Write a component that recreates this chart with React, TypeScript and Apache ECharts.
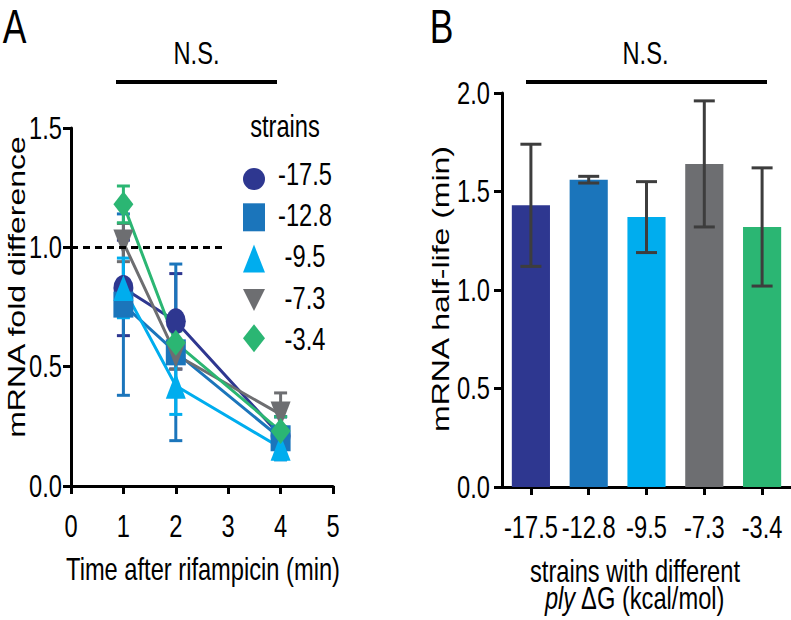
import React, { useEffect, useRef } from "react";
import * as echarts from "echarts";

// ---- data ----
const strainNames = ["-17.5", "-12.8", "-9.5", "-7.3", "-3.4"];
const strainColors = ["#2e3790", "#1b75bb", "#00adee", "#6d6e71", "#2bb673"];
const timePoints = [1, 2, 4];
const fold175 = [0.83, 0.69, 0.21];
const fold128 = [0.76, 0.56, 0.2];
const fold95 = [0.83, 0.42, 0.16];
const fold73 = [1.02, 0.55, 0.3];
const fold34 = [1.18, 0.6, 0.23];
const err175 = [0.2, 0.2, 0.08];
const err128 = [0.38, 0.37, 0.09];
const err95 = [0.125, 0.12, 0.05];
const err73 = [0.08, 0.06, 0.09];
const err34 = [0.077, 0.05, 0.06];
const halfLife = [1.43, 1.56, 1.37, 1.64, 1.32];
const halfLifeErr = [0.31, 0.017, 0.18, 0.32, 0.3];
const foldRefLine = 1.0;
const timeTicks = [0, 1, 2, 3, 4, 5];
const foldTicks = [0, 0.5, 1.0, 1.5];
const halfLifeTicks = [0, 0.5, 1.0, 1.5, 2.0];

const REG = "'Liberation Sans', Arial, Helvetica, sans-serif";
const SQ = 0.74; // horizontal squeeze of the reference's lettering
const FS = 32;

const symbols = [
  "path://M0,1A1,1,0,1,0,2,1A1,1,0,1,0,0,1Z",
  "rect",
  "triangle",
  "path://M0,0L2,0L1,2Z",
  "diamond",
];
const foldSeries = [fold175, fold128, fold95, fold73, fold34];
const errSeries = [err175, err128, err95, err73, err34];
const drawOrder = [0, 1, 3, 2, 4];

function errorBarSeries(xAxisIndex: number, yAxisIndex: number, data: number[][], color: string, cap: number, z: number) {
  return {
    type: "custom",
    xAxisIndex,
    yAxisIndex,
    z,
    silent: true,
    data,
    renderItem: (params: any, api: any) => {
      const x = api.value(0);
      const lo = api.value(1);
      const hi = api.value(2);
      const p1 = api.coord([x, hi]);
      const p2 = api.coord([x, lo]);
      const h = cap / 2;
      const style = { stroke: color, lineWidth: 3, fill: null };
      return {
        type: "group",
        children: [
          { type: "line", shape: { x1: p1[0], y1: p1[1], x2: p2[0], y2: p2[1] }, style },
          { type: "line", shape: { x1: p1[0] - h, y1: p1[1], x2: p1[0] + h, y2: p1[1] }, style },
          { type: "line", shape: { x1: p2[0] - h, y1: p2[1], x2: p2[0] + h, y2: p2[1] }, style },
        ],
      };
    },
  };
}

function txt(text: string, x: number, y: number, extra: any = {}, fontSize = FS) {
  return {
    type: "text",
    x,
    y,
    scaleX: SQ,
    silent: true,
    style: { text, fontSize, fontFamily: REG, fill: "#000", align: "center", verticalAlign: "middle", ...extra },
  };
}

function vtxt(text: string, x: number, y: number) {
  return {
    type: "text",
    x,
    y,
    rotation: Math.PI / 2,
    scaleY: SQ,
    silent: true,
    style: { text, fontSize: FS, fontFamily: REG, fill: "#000", align: "center", verticalAlign: "middle" },
  };
}

export default function App() {
  const ref = useRef<HTMLDivElement>(null);
  useEffect(() => {
    if (!ref.current) return;
    const chart = echarts.init(ref.current, undefined, { renderer: "svg" });

    const axisLine = { show: true, lineStyle: { color: "#000", width: 3 } };
    const axisTick = { show: true, inside: false, length: 8, lineStyle: { color: "#000", width: 3 } };

    const series: any[] = [];
    drawOrder.forEach((i) => {
      series.push(
        errorBarSeries(
          0,
          0,
          timePoints.map((t, k) => [t, foldSeries[i][k] - errSeries[i][k], foldSeries[i][k] + errSeries[i][k]]),
          strainColors[i],
          13,
          2
        )
      );
    });
    drawOrder.forEach((i) => {
      series.push({
        type: "line",
        name: strainNames[i],
        xAxisIndex: 0,
        yAxisIndex: 0,
        z: 3,
        data: timePoints.map((t, k) => [t, foldSeries[i][k]]),
        symbol: symbols[i],
        symbolSize: [20, 26],
        showAllSymbol: true,
        lineStyle: { color: strainColors[i], width: 3 },
        itemStyle: { color: strainColors[i] },
      });
    });
    series.push({
      type: "line",
      xAxisIndex: 0,
      yAxisIndex: 0,
      z: 1,
      silent: true,
      symbol: "none",
      data: [],
      markLine: {
        silent: true,
        symbol: "none",
        label: { show: false },
        lineStyle: { color: "#000", type: [7, 5], width: 3 },
        data: [[{ coord: [0, foldRefLine] }, { coord: [2.95, foldRefLine] }]],
      },
    });
    series.push({
      type: "bar",
      xAxisIndex: 1,
      yAxisIndex: 1,
      barCategoryGap: "34%",
      z: 2,
      data: halfLife.map((v, i) => ({ value: v, itemStyle: { color: strainColors[i] } })),
    });
    series.push(
      errorBarSeries(
        1,
        1,
        halfLife.map((v, i) => [i, v - halfLifeErr[i], v + halfLifeErr[i]]),
        "#3d3d3d",
        21,
        4
      )
    );

    chart.setOption({
      animation: false,
      textStyle: { fontFamily: REG, color: "#000" },
      grid: [
        { left: 71, top: 128, width: 262, height: 358 },
        { left: 502, top: 93, width: 289, height: 394 },
      ],
      xAxis: [
        {
          type: "value",
          gridIndex: 0,
          min: 0,
          max: 5,
          interval: 1,
          axisLine,
          axisTick,
          splitLine: { show: false },
          axisLabel: { show: false },
        },
        {
          type: "category",
          gridIndex: 1,
          data: strainNames,
          axisLine,
          axisTick: { ...axisTick, alignWithLabel: true },
          axisLabel: { show: false },
        },
      ],
      yAxis: [
        {
          type: "value",
          gridIndex: 0,
          min: 0,
          max: 1.5,
          interval: 0.5,
          axisLine,
          axisTick,
          splitLine: { show: false },
          axisLabel: { show: false },
        },
        {
          type: "value",
          gridIndex: 1,
          min: 0,
          max: 2,
          interval: 0.5,
          axisLine,
          axisTick,
          splitLine: { show: false },
          axisLabel: { show: false },
        },
      ],
      legend: {
        orient: "vertical",
        left: 238,
        top: 160,
        itemWidth: 22,
        itemHeight: 28,
        itemGap: 13.3,
        selectedMode: false,
        formatter: () => "",
        data: strainNames.map((n, i) => ({ name: n, icon: symbols[i] })),
        textStyle: { fontSize: 10 },
      },
      series,
    });

    // lettering, placed through the library's own coordinate conversion
    const g: any[] = [];
    timeTicks.forEach((t) => {
      const p = chart.convertToPixel({ gridIndex: 0 }, [t, 0]) as number[];
      g.push(txt(String(t), p[0], p[1] + 40));
    });
    foldTicks.forEach((v) => {
      const p = chart.convertToPixel({ gridIndex: 0 }, [0, v]) as number[];
      g.push(txt(v.toFixed(1), p[0] - 9, p[1], { align: "right" }));
    });
    strainNames.forEach((n, i) => {
      const p = chart.convertToPixel({ xAxisIndex: 1, yAxisIndex: 1 }, [i, 0]) as number[];
      g.push(txt(n, p[0], p[1] + 40));
    });
    halfLifeTicks.forEach((v) => {
      const p = chart.convertToPixel({ xAxisIndex: 1, yAxisIndex: 1 }, [0, v]) as number[];
      g.push(txt(v.toFixed(1), 490, p[1], { align: "right" }));
    });
    strainNames.forEach((n, i) => {
      g.push(txt(n, 305, 174 + 41.3 * i));
    });
    g.push(txt("strains", 285, 126));
    g.push(txt("A", 14.5, 27, {}, 48));
    g.push(txt("B", 441.5, 27, {}, 48));
    g.push(txt("N.S.", 196.5, 53));
    g.push(txt("N.S.", 645.5, 53));
    g.push({ type: "line", silent: true, shape: { x1: 116, y1: 82, x2: 277, y2: 82 }, style: { stroke: "#000", lineWidth: 4 } });
    g.push({ type: "line", silent: true, shape: { x1: 526, y1: 82, x2: 767, y2: 82 }, style: { stroke: "#000", lineWidth: 4 } });
    g.push(txt("Time after rifampicin (min)", 203, 569));
    g.push(txt("strains with different", 635, 571));
    g.push(
      txt("{i|ply} ΔG (kcal/mol)", 635, 598, {
        rich: { i: { fontStyle: "italic", fontSize: FS, fontFamily: REG } },
      })
    );
    g.push(vtxt("mRNA fold difference", 17, 287));
    g.push(vtxt("mRNA half-life (min)", 441, 289));

    chart.setOption({ graphic: g });
    return () => chart.dispose();
  }, []);
  return <div ref={ref} style={{ position: "absolute", left: 0, top: 0, width: 791, height: 620 }} />;
}
